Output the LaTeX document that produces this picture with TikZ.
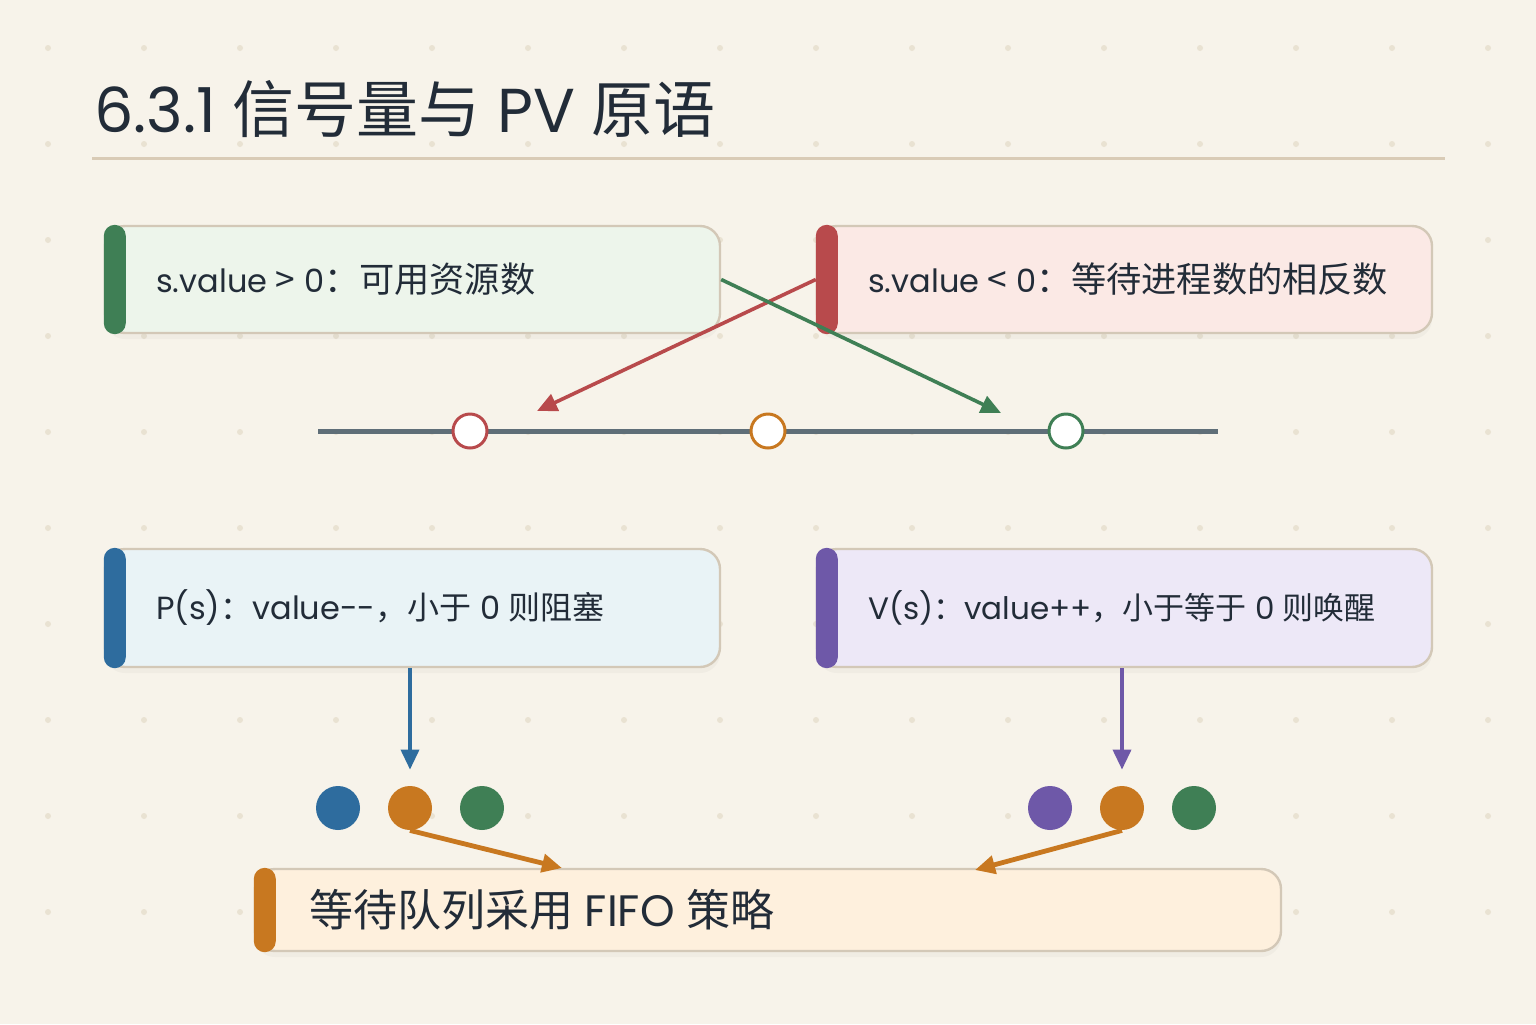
\documentclass[tikz,border=0pt]{standalone}
\usepackage{fontspec}
\setmainfont{Poppins}
\newfontfamily\cjk{Noto Sans CJK SC}
\newfontfamily\cjkbig[Scale=1.1]{Noto Sans CJK SC}
\usetikzlibrary{positioning, arrows.meta, calc, shadows}
\definecolor{semPaper}{HTML}{F7F3EA}
\definecolor{semDot}{HTML}{E9E2D2}
\definecolor{semInk}{HTML}{222C38}
\definecolor{semRule}{HTML}{D9CBB6}
\definecolor{semBorder}{HTML}{D3C8B7}
\definecolor{semAxis}{HTML}{5F6E78}
\definecolor{semGreen}{HTML}{3F7F55}
\definecolor{semRed}{HTML}{B84A4C}
\definecolor{semBlue}{HTML}{2E6C9E}
\definecolor{semPurple}{HTML}{6E58A8}
\definecolor{semOrange}{HTML}{C87820}
\definecolor{semGreenLight}{HTML}{EDF5EB}
\definecolor{semRedLight}{HTML}{FBE9E5}
\definecolor{semBlueLight}{HTML}{E9F3F6}
\definecolor{semPurpleLight}{HTML}{EDE8F7}
\definecolor{semOrangeLight}{HTML}{FEF0DD}

\begin{document}
\begin{tikzpicture}[
    x=0.5pt, y=-0.5pt,
    every node/.style={text=semInk},
    card/.style={draw=semBorder, line width=1.2pt, rounded corners=10pt,
        minimum width=307.5pt, minimum height=53.5pt, inner sep=0pt,
        drop shadow={opacity=0.06, shadow xshift=0pt, shadow yshift=-3pt}},
    cardtext/.style={font=\fontsize{16pt}{19pt}\selectfont, inner sep=0pt},
    accent/.style={rounded corners=5.5pt},
    ring/.style={circle, draw, line width=1.5pt, fill=white, minimum size=17pt, inner sep=0pt},
    token/.style={circle, minimum size=22pt, inner sep=0pt},
    link/.style={line width=1.8pt, -{Triangle[length=10pt, width=9pt]}}
]

% ============================
% Paper and dot grid
% ============================
\useasboundingbox (0,0) rectangle (1536,1024);
\fill[semPaper] (0,0) rectangle (1536,1024);
\foreach \x in {48,144,...,1488} {
    \foreach \y in {48,144,...,976} {
        \fill[semDot] (\x,\y) circle (1.5pt);
    }
}

% Title
\node[anchor=base west, inner sep=0pt, font=\fontsize{31pt}{36pt}\selectfont] (title) at (94,132)
    {6.3.1 {\cjk 信号量与} PV {\cjk 原语}};
\draw[semRule, line width=1.5pt] (92,158) -- (1445,158);

% ============================
% Top: value meaning
% ============================
\node[card, fill=semGreenLight] (pos) at (412.5,279.5) {};
\fill[accent, semGreen] (pos.north west) rectangle ($(pos.south west)+(22,0)$);
\node[cardtext, right=26pt of pos.west] {s.value {\cjkbig >} 0{\cjkbig ：可用资源数}};

\node[card, fill=semRedLight] (neg) at (1124.5,279.5) {};
\fill[accent, semRed] (neg.north west) rectangle ($(neg.south west)+(22,0)$);
\node[cardtext, right=26pt of neg.west] {s.value {\cjkbig <} 0{\cjkbig ：等待进程数的相反数}};

% Value axis
\coordinate (axisL) at (318,431);
\coordinate (axisR) at (1218,431);
\draw[semAxis, line width=2.5pt] (axisL) -- (axisR);
\node[ring, draw=semRed] (ringNeg) at (470,431) {};
\node[ring, draw=semOrange] (ringZero) at (768,431) {};
\node[ring, draw=semGreen] (ringPos) at (1066,431) {};

% Crossing arrows
\coordinate (negTip) at (537,411);
\coordinate (posTip) at (1001,413);
\draw[link, semRed] (neg.west) -- (negTip);
\draw[link, semGreen] (pos.east) -- (posTip);

% ============================
% Middle: P and V operations
% ============================
\node[card, fill=semBlueLight, minimum height=59pt] (opP) at (412.5,608) {};
\fill[accent, semBlue] (opP.north west) rectangle ($(opP.south west)+(22,0)$);
\node[cardtext, right=26pt of opP.west] {P(s){\cjk ：}value-{}-{\cjk ，小于} 0 {\cjk 则阻塞}};

\node[card, fill=semPurpleLight, minimum height=59pt] (opV) at (1124.5,608) {};
\fill[accent, semPurple] (opV.north west) rectangle ($(opV.south west)+(22,0)$);
\node[cardtext, font=\fontsize{15.5pt}{19pt}\selectfont, right=26pt of opV.west]
    {V(s){\cjk ：}value++{\cjk ，小于等于} 0 {\cjk 则唤醒}};

% Process tokens
\node[token, fill=semBlue] (pTok1) at (338,808) {};
\node[token, fill=semOrange] (pTok2) at (410,808) {};
\node[token, fill=semGreen] (pTok3) at (482,808) {};
\node[token, fill=semPurple] (vTok1) at (1050,808) {};
\node[token, fill=semOrange] (vTok2) at (1122,808) {};
\node[token, fill=semGreen] (vTok3) at (1194,808) {};

\draw[link, semBlue, shorten >=8pt] (opP.south -| pTok2) -- (pTok2.north);
\draw[link, semPurple, shorten >=8pt] (opV.south -| vTok2) -- (vTok2.north);

% ============================
% Bottom: FIFO queue
% ============================
\node[card, fill=semOrangeLight, minimum width=513pt, minimum height=41pt] (fifo) at (768,910) {};
\fill[accent, semOrange] (fifo.north west) rectangle ($(fifo.south west)+(22,0)$);
\node[cardtext, font=\fontsize{22pt}{26pt}\selectfont, right=27.5pt of fifo.west]
    {{\cjk 等待队列采用} FIFO {\cjk 策略}};

\coordinate (fifoTipL) at (562,868);
\coordinate (fifoTipR) at (975,870);
\draw[link, semOrange, line width=2.4pt] (pTok2.south) -- (fifoTipL);
\draw[link, semOrange, line width=2.4pt] (vTok2.south) -- (fifoTipR);

\end{tikzpicture}
\end{document}
